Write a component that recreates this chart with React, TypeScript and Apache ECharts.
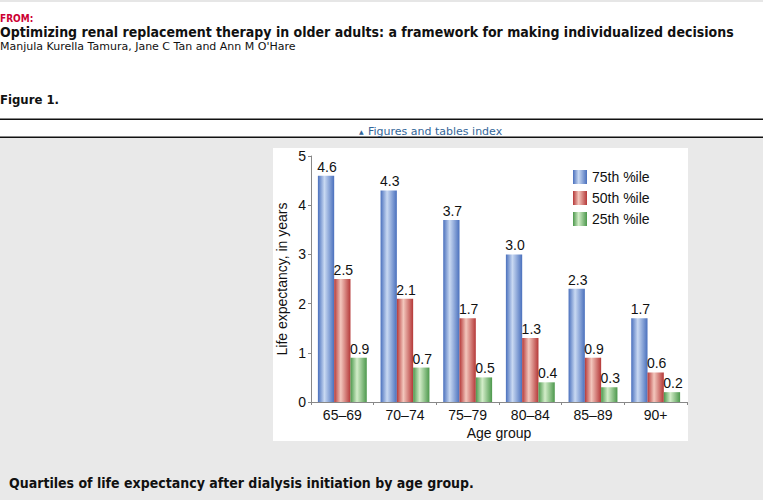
import React, { useEffect, useRef } from "react";
import * as echarts from "echarts";

const categories = ["65–69", "70–74", "75–79", "80–84", "85–89", "90+"];
const p75 = [4.6, 4.3, 3.7, 3.0, 2.3, 1.7];
const p50 = [2.5, 2.1, 1.7, 1.3, 0.9, 0.6];
const p25 = [0.9, 0.7, 0.5, 0.4, 0.3, 0.2];
const seriesNames = ["75th %ile", "50th %ile", "25th %ile"];
const yTicks = [0, 1, 2, 3, 4, 5];

const grad = (edge: string, mid: string) =>
  new echarts.graphic.LinearGradient(0, 0, 1, 0, [
    { offset: 0, color: edge },
    { offset: 0.4, color: mid },
    { offset: 1, color: edge },
  ]);

export default function App() {
  const ref = useRef<HTMLDivElement>(null);
  useEffect(() => {
    const chart = echarts.init(ref.current!, undefined, { renderer: "svg" });
    const boldFont = "'DejaVu Sans Condensed', 'DejaVu Sans', sans-serif";
    const plainFont = "'DejaVu Sans', sans-serif";
    const chartFont = "'Liberation Sans', Arial, sans-serif";
    const colors = [
      grad("#4a70bd", "#c9d9f2"),
      grad("#b53838", "#f3c7bd"),
      grad("#4c984c", "#d3edc9"),
    ];
    const data = [p75, p50, p25];
    chart.setOption({
      animation: false,
      textStyle: { fontFamily: chartFont },
      graphic: [
        { type: "rect", z: -10, shape: { x: 0, y: 0, width: 763, height: 500 }, style: { fill: "#ffffff" } },
        { type: "rect", z: -9, shape: { x: 0, y: 0, width: 763, height: 2 }, style: { fill: "#e6e6e6" } },
        { type: "rect", z: -9, shape: { x: 0, y: 138, width: 763, height: 362 }, style: { fill: "#e9e9e9" } },
        { type: "rect", z: -8, shape: { x: 273, y: 148, width: 415, height: 293 }, style: { fill: "#ffffff" } },
        { type: "rect", z: -8, shape: { x: 0, y: 118.5, width: 763, height: 1.5 }, style: { fill: "#111" } },
        { type: "rect", z: -8, shape: { x: 0, y: 136.5, width: 763, height: 1.5 }, style: { fill: "#111" } },
        { type: "text", x: 0, y: 18, style: { text: "FROM:", font: `bold 10px ${boldFont}`, fill: "#cc0033", verticalAlign: "middle" } },
        { type: "text", x: 0, y: 32, style: { text: "Optimizing renal replacement therapy in older adults: a framework for making individualized decisions", font: `bold 14px ${boldFont}`, fill: "#111", verticalAlign: "middle" } },
        { type: "text", x: 0, y: 46, style: { text: "Manjula Kurella Tamura, Jane C Tan and Ann M O'Hare", font: `11px ${plainFont}`, fill: "#111", verticalAlign: "middle" } },
        { type: "text", x: 0, y: 99, style: { text: "Figure 1.", font: `bold 13px ${boldFont}`, fill: "#111", verticalAlign: "middle" } },
        { type: "text", x: 359, y: 131, style: { text: "▲", font: `6px ${plainFont}`, fill: "#336699", verticalAlign: "middle" } },
        { type: "text", x: 368, y: 131, style: { text: "Figures and tables index", font: `11px ${plainFont}`, fill: "#336699", verticalAlign: "middle" } },
        { type: "text", x: 9, y: 483, style: { text: "Quartiles of life expectancy after dialysis initiation by age group.", font: `bold 14px ${boldFont}`, fill: "#111", verticalAlign: "middle" } },
      ],
      legend: {
        orient: "vertical",
        left: 573,
        top: 170,
        padding: 0,
        itemWidth: 14,
        itemHeight: 14,
        itemGap: 7,
        icon: "rect",
        textStyle: { fontSize: 14, color: "#111", fontFamily: chartFont },
        data: seriesNames,
      },
      grid: { left: 311, right: 76, top: 156, bottom: 98, containLabel: false },
      xAxis: {
        type: "category",
        data: categories,
        name: "Age group",
        nameLocation: "middle",
        nameGap: 24,
        nameTextStyle: { fontSize: 14, color: "#111" },
        axisLine: { lineStyle: { color: "#888", width: 1 } },
        axisTick: { show: true, length: 3, lineStyle: { color: "#888" } },
        axisLabel: { fontSize: 14, color: "#111", margin: 6 },
      },
      yAxis: {
        type: "value",
        min: 0,
        max: 5,
        interval: 1,
        name: "Life expectancy, in years",
        nameLocation: "middle",
        nameGap: 22,
        nameTextStyle: { fontSize: 14, color: "#111" },
        axisLine: { show: true, lineStyle: { color: "#888", width: 1 } },
        axisTick: { show: true, length: 3, lineStyle: { color: "#888" } },
        axisLabel: { fontSize: 14, color: "#111", margin: 5, formatter: (v: number) => (yTicks.includes(v) ? String(v) : "") },
        splitLine: { show: false },
      },
      series: seriesNames.map((name, i) => ({
        name,
        type: "bar",
        data: data[i],
        barGap: "0%",
        barCategoryGap: "22%",
        itemStyle: { color: colors[i] },
        label: {
          show: true,
          position: "top",
          distance: 2,
          offset: [1, 0],
          fontSize: 14,
          color: "#111",
          formatter: (p: any) => p.value.toFixed(1),
        },
      })),
    });
    return () => chart.dispose();
  }, []);
  return <div ref={ref} style={{ position: "absolute", left: 0, top: 0, width: 763, height: 500 }} />;
}
